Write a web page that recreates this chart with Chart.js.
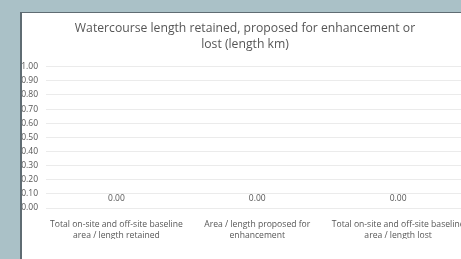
<!DOCTYPE html>
<html>
<head>
<meta charset="utf-8">
<script src="https://cdn.jsdelivr.net/npm/chart.js@4/dist/chart.umd.min.js"></script>
<style>
  html, body { margin: 0; padding: 0; }
  body { width: 461px; height: 259px; background: #aac1c7; overflow: hidden; position: relative; }
  #frame {
    position: absolute; left: 20px; top: 12px; width: 441px; height: 247px;
    background: #fff; border-left: 2px solid #5f6c73; border-top: 1px solid #5f6c73;
    overflow: hidden;
  }
  #holder { position: absolute; left: -5px; top: 0; width: 459px; height: 246px; }
</style>
</head>
<body>
<div id="frame"><div id="holder"><canvas id="lengthChart"></canvas></div></div>
<script>
// Chart data
const titleLines = ['Watercourse length retained, proposed for enhancement or', 'lost (length km)'];
const categories = [
  ['Total on-site and off-site baseline', 'area / length retained'],
  ['Area / length proposed for', 'enhancement'],
  ['Total on-site and off-site baseline', 'area / length lost']
];
const lengthValues = [0, 0, 0];
const yMin = 0;
const yMax = 1;
const yStep = 0.1;

const textColor = '#565656';
const fontFamily = '"Open Sans", "Noto Sans", sans-serif';

// draws the "0.00" labels above each bar
const valueLabels = {
  id: 'valueLabels',
  afterDatasetsDraw(chart) {
    const ctx = chart.ctx;
    const meta = chart.getDatasetMeta(0);
    ctx.save();
    ctx.font = '8.5px ' + fontFamily;
    ctx.fillStyle = textColor;
    ctx.textAlign = 'center';
    ctx.textBaseline = 'middle';
    meta.data.forEach((bar, i) => {
      ctx.fillText(lengthValues[i].toFixed(2), bar.x, bar.y - 9);
    });
    ctx.restore();
  }
};

const ctx = document.getElementById('lengthChart');
new Chart(ctx, {
  type: 'bar',
  data: {
    labels: categories,
    datasets: [{
      label: 'Length (km)',
      data: lengthValues,
      backgroundColor: '#4472c4',
      borderWidth: 0
    }]
  },
  options: {
    responsive: true,
    maintainAspectRatio: false,
    animation: false,
    layout: { padding: { left: 0, right: 3, top: 0, bottom: 20 } },
    plugins: {
      legend: { display: false },
      tooltip: { enabled: false },
      title: {
        display: true,
        text: titleLines,
        color: textColor,
        font: { family: fontFamily, size: 12.2, weight: 'normal', lineHeight: 1.3 },
        padding: { top: 7.5, bottom: 14.5 }
      }
    },
    scales: {
      x: {
        grid: { display: false, drawTicks: false },
        border: { display: false },
        ticks: {
          color: textColor,
          font: { family: fontFamily, size: 8.6, lineHeight: 1.25 },
          padding: 11,
          maxRotation: 0,
          autoSkip: false
        },
        afterFit(scale) { scale.height = 31; }
      },
      y: {
        min: yMin,
        max: yMax,
        grid: { color: '#ebebeb', drawTicks: false },
        border: { display: false },
        ticks: {
          stepSize: yStep,
          color: textColor,
          font: { family: fontFamily, size: 8.5 },
          padding: 8,
          callback: v => v.toFixed(2)
        },
        afterFit(scale) { scale.width = 29; }
      }
    }
  },
  plugins: [valueLabels]
});
</script>
</body>
</html>
